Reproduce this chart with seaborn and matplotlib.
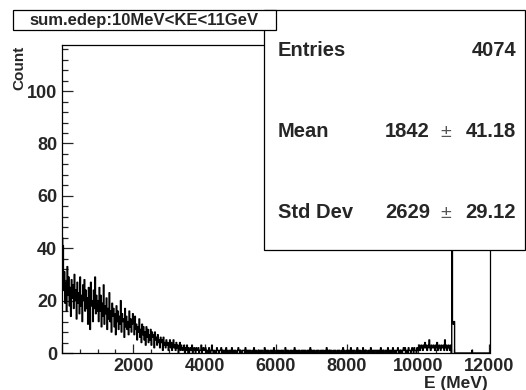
import numpy as np
import pandas as pd
import matplotlib
matplotlib.use("Agg")
import matplotlib.pyplot as plt
import seaborn as sns
from matplotlib.patches import Rectangle
from matplotlib.ticker import MultipleLocator, FuncFormatter

# ---------------- data (counts per 20 MeV bin) ----------------
bin_width = 20
x_min, x_max = 0, 12000

counts_0_1000 = [44, 41, 24, 31, 19, 27, 16, 33, 22, 29, 18, 25, 14, 28, 21, 26, 17, 30, 20, 24,
                 13, 27, 19, 23, 15, 29, 18, 22, 12, 26, 20, 28, 16, 24, 17, 21, 11, 25, 19, 9,
                 27, 18, 20, 12, 24, 17, 29, 15, 22, 16]
counts_1000_2000 = [20, 12, 25, 16, 22, 10, 19, 14, 26, 11, 18, 15, 21, 9, 17, 13, 23, 12, 16, 8,
                    19, 14, 17, 10, 15, 7, 18, 12, 16, 9, 14, 11, 20, 8, 15, 12, 13, 6, 17, 10,
                    14, 9, 12, 7, 16, 10, 13, 8, 11, 15]
counts_2000_3000 = [12, 7, 14, 9, 11, 5, 10, 8, 13, 6, 9, 4, 11, 7, 10, 5, 8, 3, 10, 6,
                    9, 4, 7, 5, 9, 3, 8, 6, 7, 2, 8, 5, 6, 3, 7, 4, 5, 2, 6, 4,
                    5, 1, 6, 3, 4, 2, 5, 3, 4, 1]
counts_3000_4000 = [3, 5, 2, 4, 1, 3, 5, 2, 3, 1, 4, 2, 3, 0, 2, 4, 1, 3, 2, 1,
                    2, 3, 0, 2, 1, 3, 1, 2, 0, 1, 2, 1, 3, 0, 1, 2, 1, 0, 2, 1,
                    1, 2, 0, 1, 1, 3, 0, 1, 2, 1]
counts_4000_8000 = [1, 2, 0, 1, 1, 0, 2, 1, 0, 1, 3, 1, 0, 1, 1, 0, 0, 2, 1, 1,
                    0, 1, 1, 2, 0, 1, 0, 1, 1, 0, 2, 1, 0, 0, 1, 1, 0, 1, 2, 0,
                    1, 0, 1, 1, 0, 0, 1, 2, 1, 0, 1, 0, 0, 1, 1, 1, 0, 2, 0, 1,
                    0, 1, 0, 1, 1, 0, 0, 1, 0, 2, 1, 0, 1, 0, 0, 1, 1, 0, 1, 0,
                    1, 1, 0, 0, 2, 1, 0, 1, 0, 1, 0, 0, 1, 1, 0, 1, 0, 2, 1, 0,
                    0, 1, 1, 0, 1, 0, 0, 1, 0, 1, 1, 0, 0, 2, 0, 1, 0, 1, 0, 0,
                    1, 0, 1, 0, 0, 1, 2, 0, 1, 0, 0, 1, 0, 1, 0, 0, 1, 1, 0, 1,
                    0, 1, 0, 0, 1, 0, 1, 0, 2, 1, 0, 0, 1, 0, 1, 0, 0, 1, 0, 1,
                    1, 0, 0, 1, 0, 1, 0, 1, 0, 0, 1, 2, 0, 1, 0, 0, 1, 0, 1, 0,
                    0, 1, 0, 1, 0, 0, 1, 0, 1, 1, 0, 0, 1, 0, 2, 0, 1, 0, 0, 1]
counts_8000_10000 = [1, 0, 1, 1, 0, 2, 0, 1, 0, 1, 1, 0, 0, 1, 2, 0, 1, 0, 1, 0,
                     0, 1, 2, 0, 1, 0, 1, 1, 0, 0, 1, 0, 1, 2, 0, 1, 0, 1, 0, 1,
                     1, 0, 1, 0, 1, 1, 0, 2, 1, 0, 1, 0, 0, 1, 1, 0, 1, 2, 0, 1,
                     0, 1, 1, 0, 2, 1, 0, 1, 0, 1, 1, 2, 0, 1, 0, 1, 1, 0, 1, 2,
                     1, 2, 0, 1, 1, 0, 2, 1, 1, 0, 1, 2, 1, 0, 2, 1, 1, 0, 2, 1]
counts_10000_12000 = [2, 3, 1, 2, 3, 2, 1, 3, 2, 4, 2, 3, 1, 2, 3, 5, 2, 1, 3, 2,
                      2, 3, 2, 1, 3, 2, 4, 1, 2, 3, 2, 1, 3, 2, 2, 3, 1, 5, 2, 3,
                      1, 2, 3, 2, 1, 3, 0, 112, 12, 11, 12, 0, 0, 0, 0, 0, 0, 0, 0, 0,
                      0, 0, 0, 0, 0, 0, 0, 0, 0, 0, 0, 0, 0, 0, 0, 1, 0, 0, 0, 0,
                      0, 0, 0, 0, 0, 0, 0, 0, 0, 0, 0, 0, 0, 0, 0, 0, 0, 0, 0, 0]

counts = (counts_0_1000 + counts_1000_2000 + counts_2000_3000 + counts_3000_4000
          + counts_4000_8000 + counts_8000_10000 + counts_10000_12000)

title_text = "sum.edep:10MeV<KE<11GeV"
stat_names = ["Entries", "Mean", "Std Dev"]
stat_values = ["4074", "1842", "2629"]
stat_errors = [None, "41.18", "29.12"]
x_label = "E (MeV)"
y_label = "Count"

# ---------------- figure ----------------
sns.set_style("ticks")
plt.rcParams["font.family"] = ["Liberation Sans", "DejaVu Sans"]
plt.rcParams["font.weight"] = "bold"

W, H = 526, 390
fig = plt.figure(figsize=(W / 100, H / 100), dpi=100)
fig.patch.set_facecolor("white")

def fx(px):
    return px / W

def fy(py):
    return 1 - py / H

ax_l, ax_r, ax_t, ax_b = 62, 489.5, 45, 353
ax = fig.add_axes([fx(ax_l), fy(ax_b), (ax_r - ax_l) / W, (ax_b - ax_t) / H])

centers = x_min + bin_width * (np.arange(len(counts)) + 0.5)
df = pd.DataFrame({"E": centers, "count": np.asarray(counts, dtype=float)})
sns.histplot(data=df, x="E", weights="count", binwidth=bin_width, binrange=(x_min, x_max),
             element="step", fill=False, color="black", linewidth=1.0, ax=ax)

ax.set_xlim(x_min, x_max)
ax.set_ylim(0, 117.6)
ax.set_xlabel("")
ax.set_ylabel("")
ax.xaxis.set_major_locator(MultipleLocator(2000))
ax.xaxis.set_minor_locator(MultipleLocator(500))
ax.yaxis.set_major_locator(MultipleLocator(20))
ax.yaxis.set_minor_locator(MultipleLocator(4))
ax.xaxis.set_major_formatter(FuncFormatter(lambda v, p: "" if v == 0 else f"{v:.0f}"))

px2pt = 0.72
ax.tick_params(axis="x", which="major", direction="in", length=9 * px2pt, width=0.9,
               top=False, labelsize=13, pad=3.5)
ax.tick_params(axis="x", which="minor", direction="in", length=4.5 * px2pt, width=0.9, top=False)
ax.tick_params(axis="y", which="major", direction="in", length=11 * px2pt, width=0.9,
               right=False, labelsize=13, pad=3.5)
ax.tick_params(axis="y", which="minor", direction="in", length=5.5 * px2pt, width=0.9, right=False)
for lab in ax.get_xticklabels() + ax.get_yticklabels():
    lab.set_fontweight("bold")
for sp in ax.spines.values():
    sp.set_visible(True)
    sp.set_linewidth(0.9)
    sp.set_color("black")

# axis titles
fig.text(fx(19), fy(46), y_label, rotation=90, ha="center", va="top",
         fontsize=11, fontweight="bold")
fig.text(fx(488), fy(388), x_label, ha="right", va="baseline",
         fontsize=12.5, fontweight="bold")

# stats box
stat_box = Rectangle((fx(264), fy(250)), (525 - 264) / W, (250 - 10) / H,
                     transform=fig.transFigure, facecolor="white", edgecolor="black",
                     linewidth=0.9, zorder=10)
fig.add_artist(stat_box)
rows_y = [56, 137, 218]
for name, val, err, yb in zip(stat_names, stat_values, stat_errors, rows_y):
    fig.text(fx(278), fy(yb), name, ha="left", va="baseline", fontsize=14.5,
             fontweight="bold", zorder=12)
    if err is None:
        fig.text(fx(516), fy(yb), val, ha="right", va="baseline", fontsize=14.5,
                 fontweight="bold", zorder=12)
    else:
        fig.text(fx(430), fy(yb), val, ha="right", va="baseline", fontsize=14.5,
                 fontweight="bold", zorder=12)
        fig.text(fx(446), fy(yb), "\u00b1", ha="center", va="baseline", fontsize=14,
                 fontweight="normal", color="#555555", zorder=12)
        fig.text(fx(516), fy(yb), err, ha="right", va="baseline", fontsize=14.5,
                 fontweight="bold", zorder=12)

# title box
title_box = Rectangle((fx(13), fy(30)), (276 - 13) / W, (30 - 10) / H,
                      transform=fig.transFigure, facecolor="white", edgecolor="black",
                      linewidth=0.9, zorder=13)
fig.add_artist(title_box)
fig.text(fx(144.5), fy(25), title_text, ha="center", va="baseline", fontsize=12,
         fontweight="bold", zorder=14)

fig.savefig("out.png", dpi=100)
